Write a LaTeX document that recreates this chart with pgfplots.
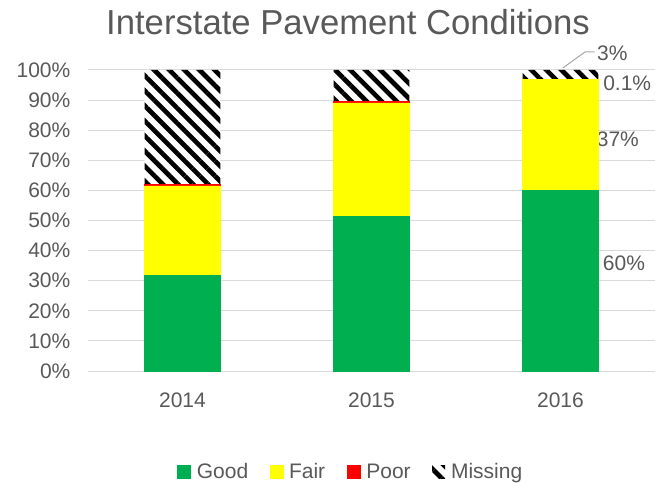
\documentclass[border=0pt]{standalone}
\usepackage{pgfplots}
\pgfplotsset{compat=1.18}
\usetikzlibrary{patterns.meta}
\usepackage{fontspec}
\setmainfont{Liberation Sans}
\definecolor{txt}{HTML}{595959}
\definecolor{good}{HTML}{00B050}
\definecolor{fair}{HTML}{FFFF00}
\definecolor{poor}{HTML}{FF0000}
\definecolor{gridc}{HTML}{D9D9D9}
\definecolor{lead}{HTML}{A6A6A6}
\begin{document}
\begin{tikzpicture}
\begin{axis}[name=ax, scale only axis, width=425.25pt, height=225.75pt,
  ybar stacked, bar width=0.4, xmin=-0.5, xmax=2.5, ymin=0, ymax=100,
  xtick={0,1,2}, xticklabels={2014,2015,2016},
  ytick={0,10,...,100},
  yticklabels={0\%,10\%,20\%,30\%,40\%,50\%,60\%,70\%,80\%,90\%,100\%},
  ymajorgrids, major grid style={gridc, line width=0.75pt},
  axis line style={draw=none}, major tick length=0pt,
  tick label style={font=\fontsize{15.75}{18}\selectfont, text=txt},
  xticklabel style={yshift=-12.5pt}, yticklabel style={xshift=-9.7pt},
  every axis title shift=0pt,
  title={\fontsize{26}{30}\selectfont Interstate Pavement Conditions},
  title style={anchor=base, at={(0.4586,1)}, yshift=26.25pt, text=txt, inner sep=0pt},
  clip=false,
  legend columns=4,
  legend style={draw=none, at={(0.464,0)}, anchor=center, yshift=-75.75pt,
    font=\fontsize{15.75}{18}\selectfont, text=txt,
    /tikz/every odd column/.append style={column sep=2.5pt},
    /tikz/every even column/.append style={column sep=14pt}},
  legend image code/.code={\fill[#1] (0pt,-4.9pt) rectangle (9.75pt,4.9pt);},
]
\addplot[fill=good, draw=good, line width=0.4pt] coordinates {(0,31.8) (1,51.4) (2,59.9)};
\addlegendentry{Good}
\addplot[fill=fair, draw=fair, line width=0.4pt] coordinates {(0,29.7) (1,37.7) (2,37.0)};
\addlegendentry{Fair}
\addplot[fill=poor, draw=poor, line width=0.6pt] coordinates {(0,0.4) (1,0.4) (2,0.1)};
\addlegendentry{Poor}
\addplot[fill=white, draw=none, postaction={pattern={Lines[angle=-45,distance=8pt,line width=3.5pt]}, pattern color=black}] coordinates {(0,38.1) (1,10.5) (2,3.0)};
\addlegendentry{Missing}
\node[anchor=west, inner sep=0pt, font=\fontsize{15.75}{18}\selectfont, text=txt] at (axis cs:2.223,35.9) {60\%};
\node[anchor=west, inner sep=0pt, font=\fontsize{15.75}{18}\selectfont, text=txt] at (axis cs:2.191,77.1) {37\%};
\node[anchor=west, inner sep=0pt, font=\fontsize{15.75}{18}\selectfont, text=txt] at (axis cs:2.225,95.7) {0.1\%};
\node[anchor=west, inner sep=0pt, font=\fontsize{15.75}{18}\selectfont, text=txt] at (axis cs:2.193,105.6) {3\%};
\draw[lead, line width=0.75pt] (axis cs:2.013,100.7) -- (axis cs:2.13,106) -- (axis cs:2.18,106);
\end{axis}
\pgfresetboundingbox
\path[use as bounding box] (ax.south west) ++(-66pt,-88.5pt) rectangle ++(492pt,366.75pt);
\end{tikzpicture}
\end{document}
